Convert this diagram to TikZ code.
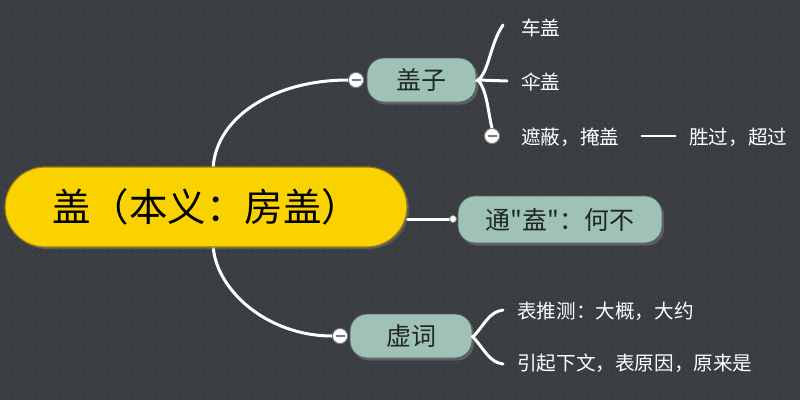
\documentclass[tikz,border=0pt]{standalone}
\usepackage{fontspec}
\newfontfamily\cjk{Noto Sans CJK SC}
\usetikzlibrary{shadows}
\definecolor{bgc}{RGB}{58,62,66}
\definecolor{dotc}{RGB}{74,79,84}
\definecolor{rootfill}{RGB}{250,210,0}
\definecolor{rootdraw}{RGB}{150,120,20}
\definecolor{subfill}{RGB}{160,193,182}
\definecolor{subdraw}{RGB}{80,95,90}
\definecolor{subtext}{RGB}{30,40,38}
\definecolor{ringc}{RGB}{120,120,120}
\tikzset{
  rootbox/.style={draw=rootdraw, line width=1.2pt, fill=rootfill, rounded corners=40pt,
    minimum width=402pt, minimum height=80pt, inner sep=0pt,
    font=\cjk\fontsize{38.5}{42}\selectfont, text=black,
    drop shadow={opacity=0.45, shadow xshift=2pt, shadow yshift=-2pt}},
  subbox/.style={draw=subdraw, line width=0.8pt, fill=subfill, rounded corners=17pt,
    inner sep=0pt, font=\cjk\fontsize{25}{28}\selectfont, text=subtext,
    drop shadow={opacity=0.5, shadow xshift=2pt, shadow yshift=-2.5pt}},
  leaf/.style={anchor=west, inner sep=0pt, text=white, font=\cjk\fontsize{19.6}{22}\selectfont},
  wire/.style={draw=white, line width=3pt, line cap=round},
  ring/.style={circle, draw=ringc, line width=0.8pt, fill=white, minimum size=15pt, inner sep=0pt,
    path picture={\draw[ringc, line width=1.2pt] ([xshift=-4.5pt]path picture bounding box.center) -- ([xshift=4.5pt]path picture bounding box.center);}},
  tip/.style={circle, draw=ringc, line width=0.6pt, fill=white, minimum size=7pt, inner sep=0pt}
}
\begin{document}
\begin{tikzpicture}[x=1pt,y=-1pt]
\useasboundingbox (0,0) rectangle (800,400);
\fill[bgc] (0,0) rectangle (800,400);
\foreach \yy in {3,9,...,399}{
  \draw[dotc, line width=1pt, dash pattern=on 1pt off 5pt] (2,\yy) -- (800,\yy);
}
% anchor coordinates
\coordinate (rt) at (213,172);
\coordinate (rb) at (213,242);
\coordinate (f1) at (478,80);
\coordinate (f2) at (473,337);
\coordinate (e1) at (503,25);
\coordinate (e2) at (507,81);
\coordinate (e4) at (503,310);
\coordinate (e5) at (503,364);
% rings
\node[ring] (c1) at (356,80) {};
\node[ring] (c2) at (340,336) {};
% connectors from root
\draw[wire] (rt) .. controls (213,119) and (272,80) .. (c1.west);
\draw[wire] (rb) .. controls (213,288) and (266,336) .. (c2.west);
% nodes
\node[rootbox] (root) at (206,207) {盖（本义：房盖）};
\node[subbox, minimum width=109pt, minimum height=44pt] (gz) at (421.5,80) {盖子};
\node[subbox, minimum width=204pt, minimum height=47pt] (tong) at (560,219.5) {通"盍"：何不};
\node[subbox, minimum width=122pt, minimum height=44pt] (xc) at (411,336) {虚词};
\node[ring] at (c1) {};
\node[ring] at (c2) {};
% root to tong
\node[tip] (t1) at (453,219) {};
\draw[wire] (root.east |- t1) -- (t1.west);
\node[tip] at (t1) {};
% branches of gz
\node[ring] (c3) at (492,136) {};
\draw[wire] (gz.east) -- (f1);
\draw[wire] (f1) .. controls (489,72) and (490,44) .. (e1);
\draw[wire] (f1) -- (e2);
\draw[wire] (f1) .. controls (487,90) and (488,112) .. (c3.north);
\node[ring] at (c3) {};
% branches of xc
\draw[wire] (xc.east) -- (f2);
\draw[wire] (f2) .. controls (485,324) and (489,312) .. (e4);
\draw[wire] (f2) .. controls (485,350) and (489,362) .. (e5);
% leaves
\node[leaf] (l1) at (521,28) {车盖};
\node[leaf] (l2) at (521,82) {伞盖};
\node[leaf] (l3) at (521,137) {遮蔽，掩盖};
\node[leaf] (l4) at (689,137) {胜过，超过};
\draw[wire, line width=2.6pt, line cap=butt] (641,136) coordinate (d1) -- (676,136) coordinate (d2);
\node[leaf] (l5) at (517,311) {表推测：大概，大约};
\node[leaf] (l6) at (517,363) {引起下文，表原因，原来是};
\end{tikzpicture}
\end{document}
